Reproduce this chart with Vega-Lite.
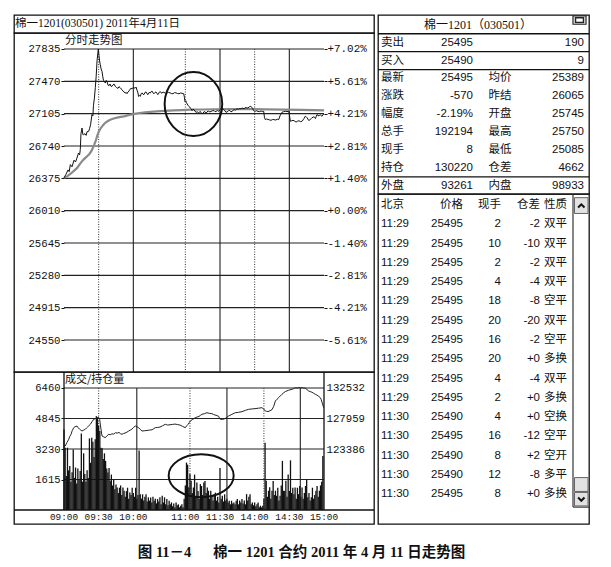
{
  "$schema": "https://vega.github.io/schema/vega-lite/v6.json",
  "background": "white",
  "padding": {"left": 12, "top": 14, "right": 0, "bottom": 0},
  "config": {
    "view": {"stroke": "#111", "strokeWidth": 1.3},
    "concat": {"spacing": 0},
    "axis": {"labelFont": "Liberation Mono", "labelFontSize": 10.7, "labelColor": "#111", "domain": false, "grid": false, "tickColor": "#111", "labelFlush": false, "labelOverlap": false},
    "text": {"font": "Liberation Sans, Noto Sans CJK SC", "fontSize": 11.5, "color": "#111"}
  },
  "title": {"text": "图 11－4\u3000\u2002棉一 1201 合约 2011 年 4 月 11 日走势图", "orient": "bottom", "anchor": "middle", "offset": 21, "font": "Liberation Serif, Noto Sans CJK SC", "fontSize": 14.5, "fontWeight": "bold", "color": "#111"},
  "datasets": {
    "price": [{"t":0,"p":26380},{"t":1.7,"p":26420},{"t":3.5,"p":26470},{"t":4.5,"p":26450},{"t":5.5,"p":26530},{"t":6.9,"p":26505},{"t":8.7,"p":26580},{"t":10,"p":26560},{"t":11.2,"p":26604},{"t":12.5,"p":26660},{"t":13.5,"p":26640},{"t":14.1,"p":26700},{"t":14.7,"p":26880},{"t":15.6,"p":26943},{"t":16.3,"p":26870},{"t":17,"p":26868},{"t":18.2,"p":26880},{"t":19.2,"p":26860},{"t":19.9,"p":26900},{"t":21.4,"p":26906},{"t":22.2,"p":26940},{"t":23,"p":26980},{"t":24.2,"p":27094},{"t":25,"p":27080},{"t":25.5,"p":27200},{"t":26.3,"p":27280},{"t":27.1,"p":27400},{"t":27.8,"p":27520},{"t":28.6,"p":27700},{"t":29.2,"p":27780},{"t":29.7,"p":27835},{"t":30.3,"p":27760},{"t":30.8,"p":27700},{"t":31.4,"p":27658},{"t":32.1,"p":27610},{"t":32.9,"p":27580},{"t":33.6,"p":27520},{"t":34.2,"p":27480},{"t":35,"p":27470},{"t":35.7,"p":27451},{"t":36.4,"p":27480},{"t":37.2,"p":27470},{"t":38,"p":27430},{"t":38.9,"p":27420},{"t":39.8,"p":27440},{"t":40.6,"p":27415},{"t":41.5,"p":27413},{"t":42.4,"p":27430},{"t":43.3,"p":27440},{"t":44.4,"p":27413},{"t":45.5,"p":27400},{"t":46.7,"p":27390},{"t":47.6,"p":27410},{"t":48.5,"p":27400},{"t":49.4,"p":27385},{"t":50.2,"p":27376},{"t":51,"p":27360},{"t":51.9,"p":27350},{"t":53,"p":27338},{"t":53.8,"p":27345},{"t":54.5,"p":27330},{"t":55.4,"p":27350},{"t":56.2,"p":27360},{"t":57.1,"p":27380},{"t":58,"p":27390},{"t":58.9,"p":27385},{"t":59.7,"p":27400},{"t":60.6,"p":27395},{"t":61.7,"p":27395},{"t":62.4,"p":27405},{"t":63.2,"p":27370},{"t":64,"p":27340},{"t":64.5,"p":27300},{"t":65.3,"p":27310},{"t":66,"p":27300},{"t":66.8,"p":27330},{"t":67.5,"p":27340},{"t":68.3,"p":27325},{"t":69.2,"p":27320},{"t":70.1,"p":27345},{"t":71,"p":27350},{"t":71.8,"p":27330},{"t":72.7,"p":27320},{"t":73.7,"p":27345},{"t":74.7,"p":27338},{"t":75.5,"p":27355},{"t":76.2,"p":27360},{"t":77,"p":27340},{"t":77.9,"p":27330},{"t":78.8,"p":27345},{"t":79.6,"p":27350},{"t":80.5,"p":27330},{"t":81.3,"p":27320},{"t":82.2,"p":27340},{"t":83,"p":27355},{"t":83.9,"p":27345},{"t":84.8,"p":27335},{"t":85.7,"p":27350},{"t":86.5,"p":27345},{"t":87.8,"p":27335},{"t":89.1,"p":27338},{"t":90.4,"p":27345},{"t":91.7,"p":27340},{"t":93,"p":27332},{"t":94.3,"p":27330},{"t":95.6,"p":27342},{"t":96.9,"p":27340},{"t":98.2,"p":27332},{"t":99.5,"p":27330},{"t":100.8,"p":27338},{"t":102.1,"p":27335},{"t":103.6,"p":27330},{"t":104.2,"p":27290},{"t":104.7,"p":27240},{"t":105.4,"p":27250},{"t":106,"p":27230},{"t":106.6,"p":27215},{"t":107.3,"p":27200},{"t":108.3,"p":27185},{"t":109.3,"p":27169},{"t":110,"p":27160},{"t":110.8,"p":27140},{"t":111.6,"p":27155},{"t":112.5,"p":27150},{"t":113.3,"p":27135},{"t":114.2,"p":27120},{"t":115.4,"p":27125},{"t":116.6,"p":27113},{"t":117.6,"p":27130},{"t":118.6,"p":27120},{"t":119.5,"p":27105},{"t":120.3,"p":27110},{"t":121.2,"p":27128},{"t":122,"p":27125},{"t":122.9,"p":27115},{"t":123.7,"p":27120},{"t":124.5,"p":27135},{"t":125.2,"p":27132},{"t":126.2,"p":27125},{"t":127.2,"p":27130},{"t":128.5,"p":27138},{"t":129.8,"p":27140},{"t":130.6,"p":27128},{"t":131.5,"p":27130},{"t":132.7,"p":27140},{"t":133.9,"p":27132},{"t":135,"p":27150},{"t":135.8,"p":27165},{"t":136.7,"p":27169},{"t":137.6,"p":27160},{"t":138.5,"p":27150},{"t":139.4,"p":27135},{"t":140.2,"p":27120},{"t":141,"p":27125},{"t":141.9,"p":27130},{"t":142.8,"p":27145},{"t":143.6,"p":27140},{"t":144.5,"p":27125},{"t":145.4,"p":27132},{"t":146.2,"p":27140},{"t":147.1,"p":27150},{"t":148.4,"p":27145},{"t":149.7,"p":27160},{"t":151,"p":27155},{"t":152.3,"p":27165},{"t":153.1,"p":27158},{"t":154,"p":27169},{"t":154.9,"p":27165},{"t":155.8,"p":27160},{"t":156.6,"p":27170},{"t":157.5,"p":27175},{"t":158.3,"p":27168},{"t":159.2,"p":27170},{"t":160.2,"p":27180},{"t":161.2,"p":27188},{"t":162,"p":27182},{"t":162.7,"p":27175},{"t":163.4,"p":27160},{"t":164,"p":27140},{"t":164.7,"p":27135},{"t":165.5,"p":27132},{"t":166.7,"p":27138},{"t":167.9,"p":27130},{"t":169.2,"p":27128},{"t":170.5,"p":27135},{"t":171.6,"p":27130},{"t":172.8,"p":27132},{"t":173.5,"p":27060},{"t":174.2,"p":27038},{"t":175.3,"p":27045},{"t":176.5,"p":27040},{"t":177.8,"p":27035},{"t":179.1,"p":27030},{"t":180.4,"p":27038},{"t":181.7,"p":27040},{"t":182.6,"p":27032},{"t":183.4,"p":27035},{"t":184.6,"p":27042},{"t":185.8,"p":27038},{"t":186.9,"p":27080},{"t":187.8,"p":27100},{"t":188.6,"p":27120},{"t":190.1,"p":27128},{"t":191.6,"p":27132},{"t":193,"p":27128},{"t":194.5,"p":27132},{"t":195.2,"p":27080},{"t":195.9,"p":27019},{"t":197,"p":27025},{"t":198.2,"p":27030},{"t":199.5,"p":27022},{"t":200.8,"p":27010},{"t":202.1,"p":27020},{"t":203.4,"p":27025},{"t":204.7,"p":27015},{"t":206,"p":27019},{"t":206.9,"p":27035},{"t":207.7,"p":27050},{"t":208.8,"p":27076},{"t":209.6,"p":27070},{"t":210.3,"p":27060},{"t":211,"p":27045},{"t":211.6,"p":27030},{"t":212.4,"p":27032},{"t":213.2,"p":27038},{"t":213.9,"p":27050},{"t":214.6,"p":27060},{"t":215.5,"p":27065},{"t":216.3,"p":27070},{"t":217,"p":27062},{"t":217.6,"p":27050},{"t":218.3,"p":27075},{"t":218.9,"p":27094},{"t":219.8,"p":27085},{"t":220.7,"p":27080},{"t":221.3,"p":27088},{"t":221.9,"p":27090},{"t":222.6,"p":27082},{"t":223.3,"p":27076},{"t":224,"p":27090},{"t":224.7,"p":27100},{"t":225,"p":27095}],
    "avg": [{"t":0,"p":26380},{"t":3,"p":26400},{"t":6,"p":26430},{"t":9,"p":26465},{"t":11.2,"p":26490},{"t":14,"p":26540},{"t":16,"p":26575},{"t":18,"p":26600},{"t":20,"p":26625},{"t":22,"p":26650},{"t":24,"p":26690},{"t":26,"p":26750},{"t":27.5,"p":26800},{"t":28.6,"p":26850},{"t":30,"p":26900},{"t":31.5,"p":26935},{"t":33,"p":26962},{"t":34.5,"p":26985},{"t":36,"p":27005},{"t":38,"p":27022},{"t":40,"p":27036},{"t":43,"p":27050},{"t":46,"p":27060},{"t":49,"p":27068},{"t":52,"p":27075},{"t":55,"p":27085},{"t":58,"p":27095},{"t":61,"p":27103},{"t":64,"p":27110},{"t":67,"p":27115},{"t":70,"p":27120},{"t":75,"p":27125},{"t":80,"p":27130},{"t":87,"p":27136},{"t":95,"p":27142},{"t":102,"p":27146},{"t":109,"p":27150},{"t":120,"p":27152},{"t":130,"p":27155},{"t":145,"p":27156},{"t":160,"p":27156},{"t":175,"p":27154},{"t":190,"p":27150},{"t":205,"p":27147},{"t":215,"p":27145},{"t":225,"p":27143}],
    "oi": [{"t":0,"oi":123700},{"t":1.1,"oi":123878},{"t":2.5,"oi":124400},{"t":4.1,"oi":124878},{"t":5,"oi":125300},{"t":6,"oi":125600},{"t":7.2,"oi":126200},{"t":8.4,"oi":126609},{"t":9.5,"oi":126750},{"t":11.2,"oi":126862},{"t":12.3,"oi":126600},{"t":13.4,"oi":126400},{"t":14.5,"oi":126250},{"t":15.6,"oi":126116},{"t":17,"oi":126250},{"t":18.4,"oi":126370},{"t":19.4,"oi":126550},{"t":20.3,"oi":126700},{"t":21.5,"oi":126900},{"t":22.8,"oi":127116},{"t":24.2,"oi":127500},{"t":25.7,"oi":127862},{"t":27,"oi":127950},{"t":28.6,"oi":128105},{"t":29.8,"oi":128200},{"t":30.9,"oi":127800},{"t":31.5,"oi":127000},{"t":32,"oi":126400},{"t":32.9,"oi":125370},{"t":34.3,"oi":125250},{"t":35.7,"oi":125117},{"t":37.2,"oi":125400},{"t":38.7,"oi":125624},{"t":40,"oi":125550},{"t":41.5,"oi":125700},{"t":43,"oi":125650},{"t":44.4,"oi":125863},{"t":46,"oi":125800},{"t":47.6,"oi":125900},{"t":49,"oi":125700},{"t":50.2,"oi":125624},{"t":51.5,"oi":125750},{"t":52.8,"oi":125800},{"t":54.5,"oi":125950},{"t":56,"oi":126116},{"t":57.4,"oi":126250},{"t":58.8,"oi":126400},{"t":60.2,"oi":126650},{"t":61.7,"oi":126862},{"t":63.2,"oi":126750},{"t":64.6,"oi":126609},{"t":66,"oi":126350},{"t":67.5,"oi":126116},{"t":69.6,"oi":126150},{"t":71.8,"oi":126200},{"t":74,"oi":126250},{"t":76.2,"oi":126300},{"t":77.6,"oi":126450},{"t":79,"oi":126609},{"t":81,"oi":126650},{"t":83,"oi":126700},{"t":85.3,"oi":126900},{"t":87.7,"oi":127116},{"t":89.7,"oi":127000},{"t":91.7,"oi":127050},{"t":94,"oi":127100},{"t":96,"oi":127150},{"t":98.2,"oi":127080},{"t":100.4,"oi":127000},{"t":102.7,"oi":126800},{"t":105,"oi":126609},{"t":106.2,"oi":126900},{"t":107.3,"oi":127100},{"t":108.3,"oi":127350},{"t":109.3,"oi":127609},{"t":111.4,"oi":127850},{"t":113.6,"oi":128105},{"t":115.2,"oi":128200},{"t":116.8,"oi":128300},{"t":118.1,"oi":128450},{"t":119.4,"oi":128608},{"t":121.5,"oi":128700},{"t":123.7,"oi":128847},{"t":125.8,"oi":128750},{"t":128,"oi":128700},{"t":129.3,"oi":128600},{"t":130.7,"oi":128500},{"t":132.3,"oi":128420},{"t":133.9,"oi":128300},{"t":134.6,"oi":128000},{"t":135.3,"oi":127862},{"t":137,"oi":127850},{"t":138.5,"oi":127900},{"t":140.5,"oi":128100},{"t":142.5,"oi":128355},{"t":145.3,"oi":128600},{"t":148.2,"oi":128847},{"t":151,"oi":128900},{"t":154,"oi":129000},{"t":157,"oi":129200},{"t":159.8,"oi":129354},{"t":162.5,"oi":129400},{"t":165.3,"oi":129450},{"t":168.3,"oi":129520},{"t":171.3,"oi":129593},{"t":172.8,"oi":129400},{"t":174.2,"oi":129100},{"t":175.4,"oi":129050},{"t":176.5,"oi":129000},{"t":178.3,"oi":129150},{"t":180,"oi":129300},{"t":181.5,"oi":129800},{"t":182.9,"oi":130592},{"t":184.3,"oi":130850},{"t":185.8,"oi":131100},{"t":187.2,"oi":131350},{"t":188.6,"oi":131592},{"t":190,"oi":131800},{"t":191.5,"oi":132000},{"t":194.4,"oi":132200},{"t":197.3,"oi":132338},{"t":198.8,"oi":132450},{"t":200.2,"oi":132577},{"t":201.8,"oi":132520},{"t":203.4,"oi":132600},{"t":204.7,"oi":132550},{"t":206,"oi":132577},{"t":207.4,"oi":132540},{"t":208.8,"oi":132500},{"t":210.2,"oi":132300},{"t":211.7,"oi":132085},{"t":213.1,"oi":132000},{"t":214.6,"oi":131900},{"t":216,"oi":131750},{"t":217.5,"oi":131592},{"t":219,"oi":131450},{"t":220.4,"oi":131300},{"t":221.8,"oi":131085},{"t":222.6,"oi":130800},{"t":223.3,"oi":130400},{"t":224,"oi":130000},{"t":224.7,"oi":129593}],
    "vol": [{"t":0,"v":4265},{"t":1,"v":3300},{"t":2,"v":1800},{"t":3,"v":3300},{"t":4,"v":2100},{"t":5,"v":2330},{"t":6,"v":1500},{"t":7,"v":2000},{"t":8,"v":3210},{"t":9,"v":1700},{"t":10,"v":2250},{"t":11,"v":1400},{"t":12,"v":2200},{"t":13,"v":1600},{"t":14,"v":2070},{"t":15,"v":4050},{"t":16,"v":1500},{"t":17,"v":3000},{"t":18,"v":1900},{"t":19,"v":1500},{"t":20,"v":2100},{"t":21,"v":1700},{"t":22,"v":3790},{"t":23,"v":2500},{"t":24,"v":3825},{"t":25,"v":3610},{"t":26,"v":2800},{"t":27,"v":3740},{"t":28,"v":4970},{"t":29,"v":4830},{"t":30,"v":4480},{"t":31,"v":4180},{"t":32,"v":3300},{"t":33,"v":3265},{"t":34,"v":2700},{"t":35,"v":3000},{"t":36,"v":2600},{"t":37,"v":2200},{"t":38,"v":1980},{"t":39,"v":2220},{"t":40,"v":1545},{"t":41,"v":1875},{"t":42,"v":1300},{"t":43,"v":1615},{"t":44,"v":1100},{"t":45,"v":1350},{"t":46,"v":1190},{"t":47,"v":900},{"t":48,"v":1180},{"t":49,"v":1300},{"t":50,"v":800},{"t":51,"v":1190},{"t":52,"v":1020},{"t":53,"v":700},{"t":54,"v":1000},{"t":55,"v":1180},{"t":56,"v":600},{"t":57,"v":930},{"t":58,"v":800},{"t":59,"v":1180},{"t":60,"v":900},{"t":61,"v":700},{"t":62,"v":1180},{"t":63,"v":600},{"t":64,"v":800},{"t":65,"v":3150},{"t":66,"v":840},{"t":67,"v":600},{"t":68,"v":830},{"t":69,"v":500},{"t":70,"v":700},{"t":71,"v":840},{"t":72,"v":450},{"t":73,"v":670},{"t":74,"v":500},{"t":75,"v":660},{"t":76,"v":400},{"t":77,"v":700},{"t":78,"v":490},{"t":79,"v":600},{"t":80,"v":350},{"t":81,"v":580},{"t":82,"v":450},{"t":83,"v":670},{"t":84,"v":300},{"t":85,"v":750},{"t":86,"v":400},{"t":87,"v":670},{"t":88,"v":310},{"t":89,"v":580},{"t":90,"v":250},{"t":91,"v":490},{"t":92,"v":300},{"t":93,"v":400},{"t":94,"v":200},{"t":95,"v":350},{"t":96,"v":140},{"t":97,"v":400},{"t":98,"v":250},{"t":99,"v":300},{"t":100,"v":140},{"t":101,"v":230},{"t":102,"v":310},{"t":103,"v":150},{"t":104,"v":600},{"t":105,"v":1300},{"t":106,"v":2510},{"t":107,"v":2400},{"t":108,"v":1200},{"t":109,"v":1900},{"t":110,"v":1545},{"t":111,"v":900},{"t":112,"v":1190},{"t":113,"v":1875},{"t":114,"v":700},{"t":115,"v":1455},{"t":116,"v":1000},{"t":117,"v":600},{"t":118,"v":1370},{"t":119,"v":1270},{"t":120,"v":800},{"t":121,"v":1455},{"t":122,"v":1530},{"t":123,"v":900},{"t":124,"v":1190},{"t":125,"v":1020},{"t":126,"v":600},{"t":127,"v":1020},{"t":128,"v":700},{"t":129,"v":500},{"t":130,"v":840},{"t":131,"v":920},{"t":132,"v":500},{"t":133,"v":700},{"t":134,"v":400},{"t":135,"v":2220},{"t":136,"v":600},{"t":137,"v":750},{"t":138,"v":450},{"t":139,"v":830},{"t":140,"v":500},{"t":141,"v":600},{"t":142,"v":400},{"t":143,"v":490},{"t":144,"v":300},{"t":145,"v":490},{"t":146,"v":350},{"t":147,"v":400},{"t":148,"v":300},{"t":149,"v":490},{"t":150,"v":580},{"t":151,"v":300},{"t":152,"v":500},{"t":153,"v":400},{"t":154,"v":580},{"t":155,"v":350},{"t":156,"v":500},{"t":157,"v":300},{"t":158,"v":840},{"t":159,"v":500},{"t":160,"v":700},{"t":161,"v":840},{"t":162,"v":300},{"t":163,"v":400},{"t":164,"v":250},{"t":165,"v":400},{"t":166,"v":200},{"t":167,"v":300},{"t":168,"v":400},{"t":169,"v":150},{"t":170,"v":230},{"t":171,"v":140},{"t":172,"v":230},{"t":173,"v":600},{"t":174,"v":3560},{"t":175,"v":1545},{"t":176,"v":700},{"t":177,"v":1020},{"t":178,"v":1200},{"t":179,"v":600},{"t":180,"v":1020},{"t":181,"v":1530},{"t":182,"v":800},{"t":183,"v":1020},{"t":184,"v":750},{"t":185,"v":1180},{"t":186,"v":500},{"t":187,"v":750},{"t":188,"v":1300},{"t":189,"v":2600},{"t":190,"v":1020},{"t":191,"v":1000},{"t":192,"v":1545},{"t":193,"v":700},{"t":194,"v":1875},{"t":195,"v":1000},{"t":196,"v":2630},{"t":197,"v":900},{"t":198,"v":1180},{"t":199,"v":840},{"t":200,"v":1190},{"t":201,"v":600},{"t":202,"v":1180},{"t":203,"v":840},{"t":204,"v":1270},{"t":205,"v":700},{"t":206,"v":1190},{"t":207,"v":600},{"t":208,"v":900},{"t":209,"v":1270},{"t":210,"v":1630},{"t":211,"v":670},{"t":212,"v":900},{"t":213,"v":500},{"t":214,"v":670},{"t":215,"v":1180},{"t":216,"v":600},{"t":217,"v":800},{"t":218,"v":1020},{"t":219,"v":1270},{"t":220,"v":700},{"t":221,"v":1020},{"t":222,"v":1300},{"t":223,"v":1500},{"t":224,"v":2860}],
    "times": [{"t":0,"label":"09:00"},{"t":30,"label":"09:30"},{"t":60,"label":"10:00"},{"t":105,"label":"11:00"},{"t":135,"label":"11:30"},{"t":165,"label":"14:00"},{"t":195,"label":"14:30"},{"t":225,"label":"15:00"}],
    "quote": [
      {"r":0,"label":"卖出","v1":"25495","label2":"","v2":"190"},
      {"r":1,"label":"买入","v1":"25490","label2":"","v2":"9"},
      {"r":2,"label":"最新","v1":"25495","label2":"均价","v2":"25389"},
      {"r":3,"label":"涨跌","v1":"-570","label2":"昨结","v2":"26065"},
      {"r":4,"label":"幅度","v1":"-2.19%","label2":"开盘","v2":"25745"},
      {"r":5,"label":"总手","v1":"192194","label2":"最高","v2":"25750"},
      {"r":6,"label":"现手","v1":"8","label2":"最低","v2":"25085"},
      {"r":7,"label":"持仓","v1":"130220","label2":"仓差","v2":"4662"},
      {"r":8,"label":"外盘","v1":"93261","label2":"内盘","v2":"98933"}
    ],
    "trades": [
      {"k":0,"time":"北京","price":"价格","vol":"现手","diff":"仓差","nature":"性质"},
      {"k":1,"time":"11:29","price":"25495","vol":"2","diff":"-2","nature":"双平"},
      {"k":2,"time":"11:29","price":"25495","vol":"10","diff":"-10","nature":"双平"},
      {"k":3,"time":"11:29","price":"25495","vol":"2","diff":"-2","nature":"双平"},
      {"k":4,"time":"11:29","price":"25495","vol":"4","diff":"-4","nature":"双平"},
      {"k":5,"time":"11:29","price":"25495","vol":"18","diff":"-8","nature":"空平"},
      {"k":6,"time":"11:29","price":"25495","vol":"20","diff":"-20","nature":"双平"},
      {"k":7,"time":"11:29","price":"25495","vol":"16","diff":"-2","nature":"空平"},
      {"k":8,"time":"11:29","price":"25495","vol":"20","diff":"+0","nature":"多换"},
      {"k":9,"time":"11:29","price":"25495","vol":"4","diff":"-4","nature":"双平"},
      {"k":10,"time":"11:29","price":"25495","vol":"2","diff":"+0","nature":"多换"},
      {"k":11,"time":"11:30","price":"25490","vol":"4","diff":"+0","nature":"空换"},
      {"k":12,"time":"11:30","price":"25495","vol":"16","diff":"-12","nature":"空平"},
      {"k":13,"time":"11:30","price":"25490","vol":"8","diff":"+2","nature":"空开"},
      {"k":14,"time":"11:30","price":"25490","vol":"12","diff":"-8","nature":"多平"},
      {"k":15,"time":"11:30","price":"25495","vol":"8","diff":"+0","nature":"多换"}
    ]
  },
  "spacing": 0,
  "hconcat": [
    {
      "spacing": 0,
      "bounds": "flush",
      "vconcat": [
        {
          "width": 360, "height": 18,
          "data": {"values": [{"label": "棉一1201(030501) 2011年4月11日"}]},
          "mark": {"type": "text", "align": "left", "baseline": "middle", "font": "Liberation Serif, Noto Sans CJK SC", "fontSize": 11.5},
          "encoding": {
            "x": {"datum": 1, "type": "quantitative", "scale": {"domain": [0, 360], "nice": false, "zero": false}, "axis": null},
            "text": {"field": "label", "type": "nominal"}
          }
        },
        {
          "width": 360, "height": 339,
          "resolve": {"axis": {"y": "independent"}},
          "layer": [
            {
              "data": {"values": [{"p":24550},{"p":24915},{"p":25280},{"p":25645},{"p":26010},{"p":26375},{"p":26740},{"p":27105},{"p":27470},{"p":27835}]},
              "mark": {"type": "rule", "color": "#222", "strokeWidth": 1.1},
              "encoding": {
                "x": {"datum": 0, "type": "quantitative", "scale": {"domain": [-43.27, 268.27], "nice": false, "zero": false}, "axis": null},
                "x2": {"datum": 225},
                "y": {"field": "p", "type": "quantitative", "scale": {"domain": [24188.8, 28015.6], "nice": false, "zero": false},
                      "axis": {"orient": "left", "offset": -50, "title": null, "values": [24550,24915,25280,25645,26010,26375,26740,27105,27470,27835], "format": "d", "tickSize": 3, "labelPadding": 1}}
              }
            },
            {
              "data": {"values": [{"t":60},{"t":135},{"t":195}]},
              "mark": {"type": "rule", "color": "#222", "strokeWidth": 1.1},
              "encoding": {
                "x": {"field": "t", "type": "quantitative", "scale": {"domain": [-43.27, 268.27], "nice": false, "zero": false}, "axis": null},
                "y": {"datum": 27835, "type": "quantitative", "scale": {"domain": [24188.8, 28015.6], "nice": false, "zero": false}, "axis": null},
                "y2": {"datum": 24188.8}
              }
            },
            {
              "data": {"values": [{"t":30},{"t":105},{"t":165}]},
              "mark": {"type": "rule", "color": "#333", "strokeWidth": 1, "strokeDash": [1, 1.5]},
              "encoding": {
                "x": {"field": "t", "type": "quantitative", "scale": {"domain": [-43.27, 268.27], "nice": false, "zero": false}, "axis": null},
                "y": {"datum": 27835, "type": "quantitative", "scale": {"domain": [24188.8, 28015.6], "nice": false, "zero": false}, "axis": null},
                "y2": {"datum": 24188.8}
              }
            },
            {
              "data": {"name": "avg"},
              "mark": {"type": "line", "color": "#8a8a8a", "strokeWidth": 2.2},
              "encoding": {
                "x": {"field": "t", "type": "quantitative", "scale": {"domain": [-43.27, 268.27], "nice": false, "zero": false}, "axis": null},
                "y": {"field": "p", "type": "quantitative", "scale": {"domain": [24188.8, 28015.6], "nice": false, "zero": false}, "axis": null}
              }
            },
            {
              "data": {"name": "price"},
              "mark": {"type": "line", "color": "#111", "strokeWidth": 1},
              "encoding": {
                "x": {"field": "t", "type": "quantitative", "scale": {"domain": [-43.27, 268.27], "nice": false, "zero": false}, "axis": null},
                "y": {"field": "p", "type": "quantitative", "scale": {"domain": [24188.8, 28015.6], "nice": false, "zero": false},
                      "axis": {"orient": "right", "offset": -50, "title": null, "values": [24550,24915,25280,25645,26010,26375,26740,27105,27470,27835], "labelExpr": "replace(format((datum.value-26010)/260.1,'+.2f'),'\u2212','-')+'%'", "tickSize": 3, "labelPadding": 0, "labelFontSize": 10.9}}
              }
            },
            {
              "data": {"values": [{"label": "分时走势图"}]},
              "mark": {"type": "text", "align": "left", "baseline": "middle", "font": "Noto Sans CJK SC", "fontSize": 11.5, "dx": 1},
              "encoding": {
                "x": {"datum": 0, "type": "quantitative", "scale": {"domain": [-43.27, 268.27], "nice": false, "zero": false}, "axis": null},
                "y": {"datum": 27925, "type": "quantitative", "scale": {"domain": [24188.8, 28015.6], "nice": false, "zero": false}, "axis": null},
                "text": {"field": "label", "type": "nominal"}
              }
            },
            {
              "data": {"values": [{"t": 112, "p": 27214}]},
              "mark": {"type": "point", "shape": "M-0.9,0A0.9,1,0,1,1,0.9,0A0.9,1,0,1,1,-0.9,0Z", "size": 4096, "filled": false, "color": "#111", "strokeWidth": 2, "opacity": 1},
              "encoding": {
                "x": {"field": "t", "type": "quantitative", "scale": {"domain": [-43.27, 268.27], "nice": false, "zero": false}, "axis": null},
                "y": {"field": "p", "type": "quantitative", "scale": {"domain": [24188.8, 28015.6], "nice": false, "zero": false}, "axis": null}
              }
            }
          ]
        },
        {
          "width": 360, "height": 152,
          "resolve": {"scale": {"y": "independent"}},
          "layer": [
            {
              "data": {"values": [{"v":1615},{"v":3230},{"v":4845},{"v":6460}]},
              "mark": {"type": "rule", "color": "#222", "strokeWidth": 1.1},
              "encoding": {
                "x": {"datum": 0, "type": "quantitative", "scale": {"domain": [-43.27, 268.27], "nice": false, "zero": false}, "axis": null},
                "x2": {"datum": 225},
                "y": {"field": "v", "type": "quantitative", "scale": {"domain": [-741.3, 7307.2], "nice": false, "zero": false},
                      "axis": {"orient": "left", "offset": -50, "title": null, "values": [1615,3230,4845,6460], "format": "d", "tickSize": 3, "labelPadding": 1, "labelFontSize": 10.5}}
              }
            },
            {
              "data": {"values": [{"t":63},{"t":141},{"t":204.5}]},
              "mark": {"type": "rule", "color": "#222", "strokeWidth": 1.1},
              "encoding": {
                "x": {"field": "t", "type": "quantitative", "scale": {"domain": [-43.27, 268.27], "nice": false, "zero": false}, "axis": null},
                "y": {"datum": 6460, "type": "quantitative", "scale": {"domain": [-741.3, 7307.2], "nice": false, "zero": false}, "axis": null},
                "y2": {"datum": 0}
              }
            },
            {
              "data": {"values": [{"t":30},{"t":109},{"t":173}]},
              "mark": {"type": "rule", "color": "#333", "strokeWidth": 1, "strokeDash": [1, 1.5]},
              "encoding": {
                "x": {"field": "t", "type": "quantitative", "scale": {"domain": [-43.27, 268.27], "nice": false, "zero": false}, "axis": null},
                "y": {"datum": 6460, "type": "quantitative", "scale": {"domain": [-741.3, 7307.2], "nice": false, "zero": false}, "axis": null},
                "y2": {"datum": 0}
              }
            },
            {
              "data": {"values": [{"t":0},{"t":225}]},
              "mark": {"type": "rule", "color": "#111", "strokeWidth": 1.3},
              "encoding": {
                "x": {"field": "t", "type": "quantitative", "scale": {"domain": [-43.27, 268.27], "nice": false, "zero": false}, "axis": null},
                "y": {"datum": 7307.2, "type": "quantitative", "scale": {"domain": [-741.3, 7307.2], "nice": false, "zero": false}, "axis": null},
                "y2": {"datum": 0}
              }
            },
            {
              "data": {"values": [{"v": 0}]},
              "mark": {"type": "rule", "color": "#111", "strokeWidth": 1.3},
              "encoding": {
                "x": {"datum": -43.27, "type": "quantitative", "scale": {"domain": [-43.27, 268.27], "nice": false, "zero": false}, "axis": null},
                "x2": {"datum": 268.27},
                "y": {"field": "v", "type": "quantitative", "scale": {"domain": [-741.3, 7307.2], "nice": false, "zero": false}, "axis": null}
              }
            },
            {
              "data": {"name": "vol"},
              "mark": {"type": "rule", "color": "#111", "strokeWidth": 1.3},
              "encoding": {
                "x": {"field": "t", "type": "quantitative", "scale": {"domain": [-43.27, 268.27], "nice": false, "zero": false}, "axis": null},
                "y": {"field": "v", "type": "quantitative", "scale": {"domain": [-741.3, 7307.2], "nice": false, "zero": false}, "axis": null},
                "y2": {"datum": 0}
              }
            },
            {
              "data": {"name": "times"},
              "mark": {"type": "text", "align": "center", "baseline": "middle", "font": "Liberation Mono", "fontSize": 9.4},
              "encoding": {
                "x": {"field": "t", "type": "quantitative", "scale": {"domain": [-43.27, 268.27], "nice": false, "zero": false}, "axis": null},
                "y": {"datum": -380, "type": "quantitative", "scale": {"domain": [-741.3, 7307.2], "nice": false, "zero": false}, "axis": null},
                "text": {"field": "label", "type": "nominal"}
              }
            },
            {
              "data": {"values": [{"label": "成交/持仓量"}]},
              "mark": {"type": "text", "align": "left", "baseline": "middle", "font": "Noto Sans CJK SC", "fontSize": 11, "dx": 1},
              "encoding": {
                "x": {"datum": 0, "type": "quantitative", "scale": {"domain": [-43.27, 268.27], "nice": false, "zero": false}, "axis": null},
                "y": {"datum": 6884, "type": "quantitative", "scale": {"domain": [-741.3, 7307.2], "nice": false, "zero": false}, "axis": null},
                "text": {"field": "label", "type": "nominal"}
              }
            },
            {
              "data": {"values": [{"t": 118.7, "v": 1816}]},
              "mark": {"type": "point", "shape": "M-1,0A1,0.66,0,1,1,1,0A1,0.66,0,1,1,-1,0Z", "size": 4225, "filled": false, "color": "#111", "strokeWidth": 2, "opacity": 1},
              "encoding": {
                "x": {"field": "t", "type": "quantitative", "scale": {"domain": [-43.27, 268.27], "nice": false, "zero": false}, "axis": null},
                "y": {"field": "v", "type": "quantitative", "scale": {"domain": [-741.3, 7307.2], "nice": false, "zero": false}, "axis": null}
              }
            },
            {
              "data": {"name": "oi"},
              "mark": {"type": "line", "color": "#222", "strokeWidth": 1},
              "encoding": {
                "x": {"field": "t", "type": "quantitative", "scale": {"domain": [-43.27, 268.27], "nice": false, "zero": false}, "axis": null},
                "y": {"field": "oi", "type": "quantitative", "scale": {"domain": [112241, 134919], "nice": false, "zero": false},
                      "axis": {"orient": "right", "offset": -50, "title": null, "values": [123386,127959,132532], "format": "d", "tickSize": 0, "labelPadding": 2}}
              }
            }
          ]
        }
      ]
    },
    {
      "spacing": 0,
      "bounds": "flush",
      "vconcat": [
        {
          "width": 211, "height": 179,
          "layer": [
            {
              "data": {"values": [{"r":-0.5},{"r":0.5},{"r":1.5},{"r":7.5}]},
              "mark": {"type": "rule", "color": "#111", "strokeWidth": 1.3},
              "encoding": {
                "x": {"datum": 0, "type": "quantitative", "scale": {"domain": [0, 211], "nice": false, "zero": false}, "axis": null},
                "x2": {"datum": 211},
                "y": {"field": "r", "type": "quantitative", "scale": {"domain": [-1.547, 8.453], "nice": false, "zero": false, "reverse": true}, "axis": null}
              }
            },
            {
              "data": {"values": [{"r": -1, "name": "棉一1201（030501）"}]},
              "mark": {"type": "text", "align": "center", "baseline": "middle", "font": "Liberation Serif, Noto Sans CJK SC", "fontSize": 12},
              "encoding": {
                "x": {"datum": 100, "type": "quantitative", "scale": {"domain": [0, 211], "nice": false, "zero": false}, "axis": null},
                "y": {"field": "r", "type": "quantitative", "scale": {"domain": [-1.547, 8.453], "nice": false, "zero": false, "reverse": true}, "axis": null},
                "text": {"field": "name", "type": "nominal"}
              }
            },
            {
              "data": {"values": [{"r0": -1.5, "r1": -1.03}]},
              "mark": {"type": "rect", "fill": "white", "stroke": "#222", "strokeWidth": 1.2},
              "encoding": {
                "x": {"datum": 195, "type": "quantitative", "scale": {"domain": [0, 211], "nice": false, "zero": false}, "axis": null},
                "x2": {"datum": 208},
                "y": {"field": "r0", "type": "quantitative", "scale": {"domain": [-1.547, 8.453], "nice": false, "zero": false, "reverse": true}, "axis": null},
                "y2": {"field": "r1"}
              }
            },
            {
              "data": {"values": [{"r0": -1.4, "r1": -1.13}]},
              "mark": {"type": "rect", "fill": "white", "stroke": "#222", "strokeWidth": 1.5},
              "encoding": {
                "x": {"datum": 197.5, "type": "quantitative", "scale": {"domain": [0, 211], "nice": false, "zero": false}, "axis": null},
                "x2": {"datum": 205.5},
                "y": {"field": "r0", "type": "quantitative", "scale": {"domain": [-1.547, 8.453], "nice": false, "zero": false, "reverse": true}, "axis": null},
                "y2": {"field": "r1"}
              }
            },
            {
              "data": {"name": "quote"},
              "mark": {"type": "text", "align": "left", "baseline": "middle"},
              "encoding": {
                "x": {"datum": 3, "type": "quantitative", "scale": {"domain": [0, 211], "nice": false, "zero": false}, "axis": null},
                "y": {"field": "r", "type": "quantitative", "scale": {"domain": [-1.547, 8.453], "nice": false, "zero": false, "reverse": true}, "axis": null},
                "text": {"field": "label", "type": "nominal"}
              }
            },
            {
              "data": {"name": "quote"},
              "mark": {"type": "text", "align": "right", "baseline": "middle"},
              "encoding": {
                "x": {"datum": 95, "type": "quantitative", "scale": {"domain": [0, 211], "nice": false, "zero": false}, "axis": null},
                "y": {"field": "r", "type": "quantitative", "scale": {"domain": [-1.547, 8.453], "nice": false, "zero": false, "reverse": true}, "axis": null},
                "text": {"field": "v1", "type": "nominal"}
              }
            },
            {
              "data": {"name": "quote"},
              "mark": {"type": "text", "align": "center", "baseline": "middle"},
              "encoding": {
                "x": {"datum": 122, "type": "quantitative", "scale": {"domain": [0, 211], "nice": false, "zero": false}, "axis": null},
                "y": {"field": "r", "type": "quantitative", "scale": {"domain": [-1.547, 8.453], "nice": false, "zero": false, "reverse": true}, "axis": null},
                "text": {"field": "label2", "type": "nominal"}
              }
            },
            {
              "data": {"name": "quote"},
              "mark": {"type": "text", "align": "right", "baseline": "middle"},
              "encoding": {
                "x": {"datum": 206, "type": "quantitative", "scale": {"domain": [0, 211], "nice": false, "zero": false}, "axis": null},
                "y": {"field": "r", "type": "quantitative", "scale": {"domain": [-1.547, 8.453], "nice": false, "zero": false, "reverse": true}, "axis": null},
                "text": {"field": "v2", "type": "nominal"}
              }
            }
          ]
        },
        {
          "width": 211, "height": 330,
          "layer": [
            {
              "data": {"values": [{"k0": -0.57, "k1": 15.66}]},
              "mark": {"type": "rule", "color": "#222", "strokeWidth": 1.1},
              "encoding": {
                "x": {"datum": 195, "type": "quantitative", "scale": {"domain": [0, 211], "nice": false, "zero": false}, "axis": null},
                "y": {"field": "k0", "type": "quantitative", "scale": {"domain": [-0.57, 16.537], "nice": false, "zero": false, "reverse": true}, "axis": null},
                "y2": {"field": "k1"}
              }
            },
            {
              "data": {"values": [{"k": 15.66}]},
              "mark": {"type": "rule", "color": "#222", "strokeWidth": 1.1},
              "encoding": {
                "x": {"datum": 195, "type": "quantitative", "scale": {"domain": [0, 211], "nice": false, "zero": false}, "axis": null},
                "x2": {"datum": 211},
                "y": {"field": "k", "type": "quantitative", "scale": {"domain": [-0.57, 16.537], "nice": false, "zero": false, "reverse": true}, "axis": null}
              }
            },
            {
              "data": {"values": [{"k0": -0.38, "k1": 0.44}, {"k0": 14.13, "k1": 14.85}, {"k0": 14.9, "k1": 15.6}]},
              "mark": {"type": "rect", "fill": "#e2e2e2", "stroke": "#666", "strokeWidth": 1},
              "encoding": {
                "x": {"datum": 196.5, "type": "quantitative", "scale": {"domain": [0, 211], "nice": false, "zero": false}, "axis": null},
                "x2": {"datum": 210},
                "y": {"field": "k0", "type": "quantitative", "scale": {"domain": [-0.57, 16.537], "nice": false, "zero": false, "reverse": true}, "axis": null},
                "y2": {"field": "k1"}
              }
            },
            {
              "data": {"values": [{"k": 0.05}]},
              "mark": {"type": "point", "shape": "M-0.8,0.4L0,-0.4L0.8,0.4", "size": 64, "filled": false, "color": "#111", "strokeWidth": 2, "opacity": 1},
              "encoding": {
                "x": {"datum": 203.3, "type": "quantitative", "scale": {"domain": [0, 211], "nice": false, "zero": false}, "axis": null},
                "y": {"field": "k", "type": "quantitative", "scale": {"domain": [-0.57, 16.537], "nice": false, "zero": false, "reverse": true}, "axis": null}
              }
            },
            {
              "data": {"values": [{"k": 15.25}]},
              "mark": {"type": "point", "shape": "M-0.8,-0.4L0,0.4L0.8,-0.4", "size": 64, "filled": false, "color": "#111", "strokeWidth": 2, "opacity": 1},
              "encoding": {
                "x": {"datum": 203.3, "type": "quantitative", "scale": {"domain": [0, 211], "nice": false, "zero": false}, "axis": null},
                "y": {"field": "k", "type": "quantitative", "scale": {"domain": [-0.57, 16.537], "nice": false, "zero": false, "reverse": true}, "axis": null}
              }
            },
            {
              "data": {"name": "trades"},
              "mark": {"type": "text", "align": "left", "baseline": "middle"},
              "encoding": {
                "x": {"datum": 3, "type": "quantitative", "scale": {"domain": [0, 211], "nice": false, "zero": false}, "axis": null},
                "y": {"field": "k", "type": "quantitative", "scale": {"domain": [-0.57, 16.537], "nice": false, "zero": false, "reverse": true}, "axis": null},
                "text": {"field": "time", "type": "nominal"}
              }
            },
            {
              "data": {"name": "trades"},
              "mark": {"type": "text", "align": "right", "baseline": "middle"},
              "encoding": {
                "x": {"datum": 85, "type": "quantitative", "scale": {"domain": [0, 211], "nice": false, "zero": false}, "axis": null},
                "y": {"field": "k", "type": "quantitative", "scale": {"domain": [-0.57, 16.537], "nice": false, "zero": false, "reverse": true}, "axis": null},
                "text": {"field": "price", "type": "nominal"}
              }
            },
            {
              "data": {"name": "trades"},
              "mark": {"type": "text", "align": "right", "baseline": "middle"},
              "encoding": {
                "x": {"datum": 123, "type": "quantitative", "scale": {"domain": [0, 211], "nice": false, "zero": false}, "axis": null},
                "y": {"field": "k", "type": "quantitative", "scale": {"domain": [-0.57, 16.537], "nice": false, "zero": false, "reverse": true}, "axis": null},
                "text": {"field": "vol", "type": "nominal"}
              }
            },
            {
              "data": {"name": "trades"},
              "mark": {"type": "text", "align": "right", "baseline": "middle"},
              "encoding": {
                "x": {"datum": 162, "type": "quantitative", "scale": {"domain": [0, 211], "nice": false, "zero": false}, "axis": null},
                "y": {"field": "k", "type": "quantitative", "scale": {"domain": [-0.57, 16.537], "nice": false, "zero": false, "reverse": true}, "axis": null},
                "text": {"field": "diff", "type": "nominal"}
              }
            },
            {
              "data": {"name": "trades"},
              "mark": {"type": "text", "align": "left", "baseline": "middle"},
              "encoding": {
                "x": {"datum": 166, "type": "quantitative", "scale": {"domain": [0, 211], "nice": false, "zero": false}, "axis": null},
                "y": {"field": "k", "type": "quantitative", "scale": {"domain": [-0.57, 16.537], "nice": false, "zero": false, "reverse": true}, "axis": null},
                "text": {"field": "nature", "type": "nominal"}
              }
            }
          ]
        }
      ]
    }
  ]
}
